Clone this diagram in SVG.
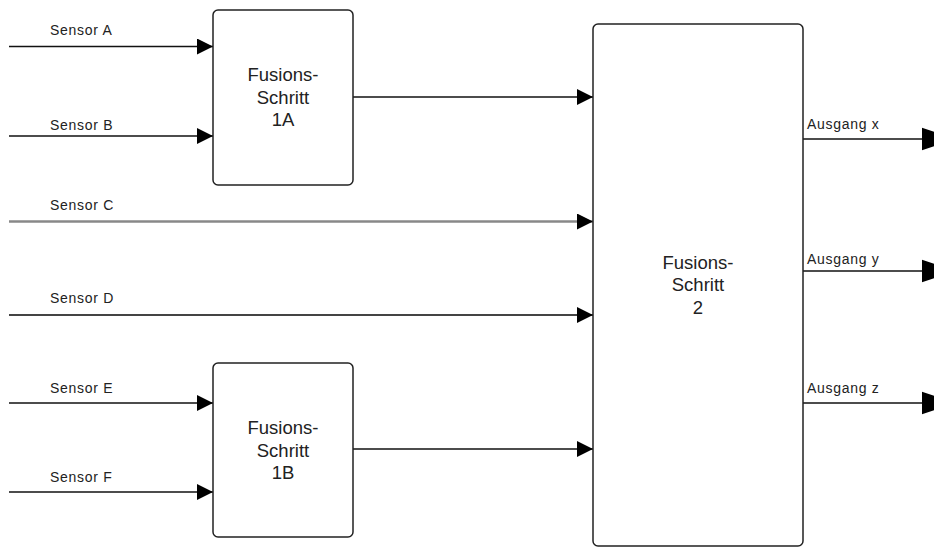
<svg xmlns="http://www.w3.org/2000/svg" width="934" height="548" viewBox="0 0 934 548">
  <defs>
    <marker id="arrow-in" markerUnits="userSpaceOnUse" markerWidth="16" markerHeight="16" refX="14" refY="7" orient="auto" viewBox="0 0 14 14">
      <path d="M0,0 L14,7 L0,14 Z" fill="#000"/>
    </marker>
    <marker id="arrow-out" markerUnits="userSpaceOnUse" markerWidth="34" markerHeight="24" refX="0" refY="11" orient="auto" viewBox="0 0 33 22">
      <path d="M0,0 L33,11 L0,22 Z" fill="#000"/>
    </marker>
    <style>
      .box { fill: #fff; stroke: #222; stroke-width: 1.5; }
      .title { font-family: "Liberation Sans", Arial, sans-serif; font-size: 18.5px; fill: #222; text-anchor: middle; }
      .lbl { font-family: "Liberation Sans", Arial, sans-serif; font-size: 14px; letter-spacing: 0.7px; fill: #222; }
      .wire { stroke: #111; stroke-width: 1.5; fill: none; }
      .wire-c { stroke: #888; stroke-width: 2.6; fill: none; }
      .wire-d { stroke: #444; stroke-width: 2; fill: none; }
    </style>
  </defs>
  <rect width="934" height="548" fill="#fff"/>

  <!-- connectors -->
  <g id="connectors">
    <line class="wire" x1="9" y1="46.5" x2="213" y2="46.5" marker-end="url(#arrow-in)"/>
    <line class="wire" x1="9" y1="136" x2="213" y2="136" marker-end="url(#arrow-in)"/>
    <line class="wire-c" x1="9" y1="221.5" x2="593" y2="221.5" marker-end="url(#arrow-in)"/>
    <line class="wire-d" x1="9" y1="315" x2="593" y2="315" marker-end="url(#arrow-in)"/>
    <line class="wire" x1="9" y1="403" x2="213" y2="403" marker-end="url(#arrow-in)"/>
    <line class="wire" x1="9" y1="492" x2="213" y2="492" marker-end="url(#arrow-in)"/>
    <line class="wire" x1="353" y1="97" x2="593" y2="97" marker-end="url(#arrow-in)"/>
    <line class="wire" x1="353" y1="449" x2="593" y2="449" marker-end="url(#arrow-in)"/>
    <line class="wire" x1="803" y1="139" x2="922" y2="139" marker-end="url(#arrow-out)"/>
    <line class="wire" x1="803" y1="271" x2="922" y2="271" marker-end="url(#arrow-out)"/>
    <line class="wire" x1="803" y1="403" x2="922" y2="403" marker-end="url(#arrow-out)"/>

    <text class="lbl" x="50" y="34.5">Sensor A</text>
    <text class="lbl" x="50" y="129.5">Sensor B</text>
    <text class="lbl" x="50" y="210">Sensor C</text>
    <text class="lbl" x="50" y="303">Sensor D</text>
    <text class="lbl" x="50" y="393">Sensor E</text>
    <text class="lbl" x="50" y="482">Sensor F</text>
    <text class="lbl" x="807" y="129">Ausgang x</text>
    <text class="lbl" x="807" y="264">Ausgang y</text>
    <text class="lbl" x="807" y="393">Ausgang z</text>
  </g>

  <!-- fusion step 1A -->
  <g id="step-1a">
    <rect class="box" x="213" y="10" width="140" height="175" rx="5"/>
    <text class="title" x="283" y="81">Fusions-</text>
    <text class="title" x="283" y="103.5">Schritt</text>
    <text class="title" x="283" y="126">1A</text>
  </g>

  <!-- fusion step 1B -->
  <g id="step-1b">
    <rect class="box" x="213" y="363" width="140" height="174" rx="5"/>
    <text class="title" x="283" y="434">Fusions-</text>
    <text class="title" x="283" y="456.5">Schritt</text>
    <text class="title" x="283" y="479">1B</text>
  </g>

  <!-- fusion step 2 -->
  <g id="step-2">
    <rect class="box" x="593" y="24" width="210" height="522" rx="5"/>
    <text class="title" x="698" y="268.5">Fusions-</text>
    <text class="title" x="698" y="291">Schritt</text>
    <text class="title" x="698" y="313.5">2</text>
  </g>
</svg>
